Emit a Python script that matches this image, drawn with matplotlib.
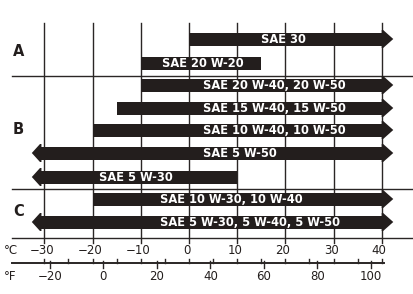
import matplotlib.pyplot as plt

# datos del grafico (temperaturas en grados C)
grados = ['SAE 30', 'SAE 20 W-20', 'SAE 20 W-40, 20 W-50', 'SAE 15 W-40, 15 W-50',
          'SAE 10 W-40, 10 W-50', 'SAE 5 W-50', 'SAE 5 W-30',
          'SAE 10 W-30, 10 W-40', 'SAE 5 W-30, 5 W-40, 5 W-50']
temp_min = [0, -10, -10, -15, -20, None, None, -20, None]   # None = sin limite (flecha)
temp_max = [None, 15, None, None, None, None, 10, None, None]
grupos = ['A', 'B', 'C']
ticks_c = [-30, -20, -10, 0, 10, 20, 30, 40]
ticks_f = [-20, 0, 20, 40, 60, 80, 100]

# posiciones (pixeles verticales) y donde empieza cada texto
fila_y = [39, 63, 85, 108, 130, 153, 177, 199, 222]
texto_x = [15, -5.5, 3, 3, 3, 3, -18.6, -6, -6]
grupo_y = [52, 130, 212]

color_barra = '#231e1d'
color_linea = '#2a2625'

fig = plt.figure(figsize=(4.14, 2.94), dpi=100)
ax = fig.add_axes([0, 0, 1, 1])
ax.set_xlim(-39.2, 46.7)
ax.set_ylim(294, 0)
ax.axis('off')

# rejilla
for c in ticks_c:
    ax.plot([c, c], [23, 243], color=color_linea, lw=1.0, zorder=1)
for y in [76, 189, 238]:
    ax.plot([-36.7, 46.7], [y, y], color=color_linea, lw=1.0, zorder=1)

# barras
izq_cuerpo, izq_punta = -30.9, -32.6
der_cuerpo, der_punta = 40.3, 42.4
alto = 13
for g, a, b, y, tx in zip(grados, temp_min, temp_max, fila_y, texto_x):
    x0 = izq_cuerpo if a is None else a
    x1 = der_cuerpo if b is None else b
    ax.barh(y, x1 - x0, left=x0, height=alto, color=color_barra, zorder=2)
    if a is None:
        ax.fill([izq_punta, x0, x0 + 0.3, x0 + 0.3, x0],
                [y, y - 9, y - 9, y + 9, y + 9], color=color_barra, lw=0, zorder=2)
    if b is None:
        ax.fill([der_punta, x1, x1 - 0.3, x1 - 0.3, x1],
                [y, y - 9, y - 9, y + 9, y + 9], color=color_barra, lw=0, zorder=2)
    ax.text(tx, y + 0.5, g, color='white', fontsize=8.3, fontweight='bold',
            family='DejaVu Sans', ha='left', va='center', zorder=3)

for letra, y in zip(grupos, grupo_y):
    ax.text(-35.4, y, letra, fontsize=10.5, fontweight='bold', family='DejaVu Sans',
            ha='center', va='center', color=color_barra)

# ejes de temperatura
ax.text(-38.4, 250, '°C', fontsize=8.5, family='DejaVu Sans', ha='left', va='center',
        color=color_barra)
ax.text(-38.4, 276, '°F', fontsize=8.5, family='DejaVu Sans', ha='left', va='center',
        color=color_barra)
for c in ticks_c:
    ax.text(c - 0.5, 250, str(c).replace('-', '−'), fontsize=8.5, family='DejaVu Sans',
            ha='center', va='center', color=color_barra)

ax.plot([-36.7, 40.5], [263, 263], color=color_linea, lw=1.4)
for c in range(-30, 41, 5):
    ax.plot([c, c], [259, 263], color=color_linea, lw=1)
for f in ticks_f:
    c = (f - 32) * 5 / 9
    ax.plot([c, c], [261, 268], color=color_linea, lw=1)
    ax.text(c, 276, str(f).replace('-', '−'), fontsize=8.5, family='DejaVu Sans',
            ha='center', va='center', color=color_barra)

plt.savefig('out.png', dpi=100)
